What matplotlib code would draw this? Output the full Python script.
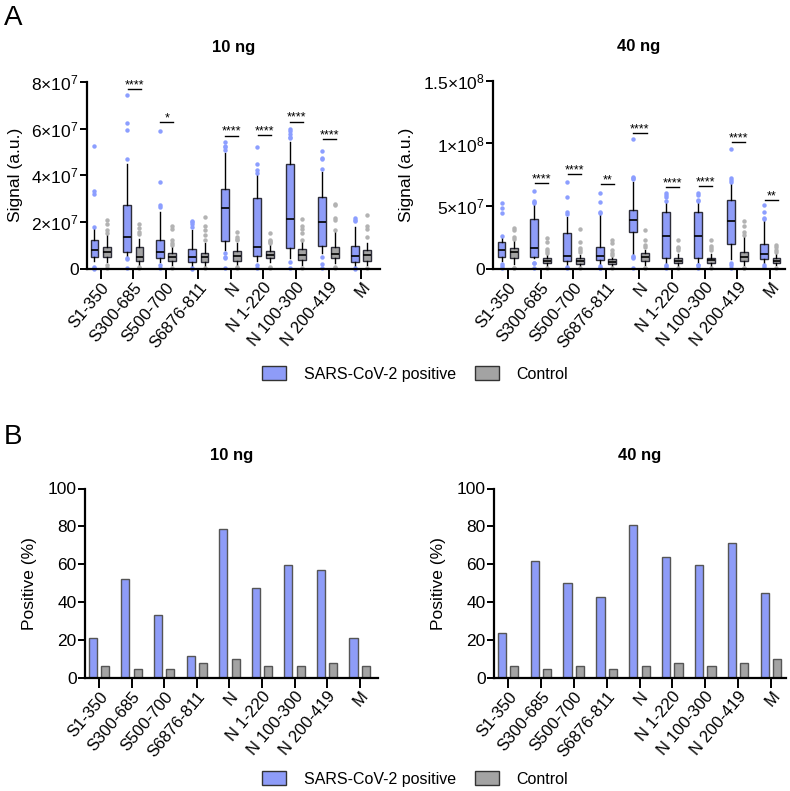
"""
Serology panel: peptide signal box plots (A) and percent positive bars (B), 10 ng vs 40 ng.
Output: out.png
"""
import matplotlib
matplotlib.use("Agg")
import matplotlib.pyplot as plt
from matplotlib.patches import Patch
import numpy as np

plt.rcParams["font.family"] = ["Liberation Sans", "DejaVu Sans"]
plt.rcParams["mathtext.fontset"] = "custom"
plt.rcParams["mathtext.rm"] = "Liberation Sans"
plt.rcParams["mathtext.it"] = "Liberation Sans"

CATEGORIES = ["S1-350", "S300-685", "S500-700", "S6876-811", "N",
              "N 1-220", "N 100-300", "N 200-419", "M"]

# ---- box plot summaries, signal in units of 1e6 a.u. ----
# 10 ng, SARS-CoV-2 positive
pos10_q1 = [5.0, 7.2, 4.5, 2.8, 12.0, 5.6, 8.8, 9.8, 3.0]
pos10_med = [8.1, 13.8, 7.2, 5.0, 26.2, 9.3, 21.4, 20.2, 5.6]
pos10_q3 = [12.4, 27.4, 12.2, 8.6, 34.0, 30.5, 44.7, 30.8, 10.0]
pos10_lo = [3.5, 5.5, 2.8, 1.0, 8.0, 3.5, 4.5, 7.0, 1.0]
pos10_hi = [17.5, 45.0, 24.4, 16.7, 49.4, 40.2, 54.4, 41.6, 17.8]
pos10_out = [[52.5, 33.5, 32.0, 18.0, 1.0, 0.5, 0.2],
             [74.5, 62.5, 59.5, 47.0, 4.5, 4.2, 0.3],
             [59.0, 37.0, 27.4, 26.5, 1.5, 0.3],
             [20.6, 20.2, 19.2, 18.1, 0.2, 0.4],
             [54.2, 52.6, 52.0, 50.8, 6.8, 5.3, 4.6, 0.5],
             [52.3, 44.7, 42.3, 40.8, 1.5, 0.5],
             [59.7, 59.0, 57.7, 56.5, 55.9, 2.8, 0.3],
             [50.5, 47.5, 47.0, 42.5, 5.0, 2.0, 0.3],
             [21.9, 21.0, 20.6, 0.5, 0.2]]
# 10 ng, control
ctl10_q1 = [5.0, 3.5, 3.5, 3.0, 3.5, 4.6, 3.8, 4.6, 3.5]
ctl10_med = [7.4, 5.0, 5.0, 5.0, 5.6, 6.0, 5.8, 6.2, 5.8]
ctl10_q3 = [9.5, 9.2, 6.7, 6.8, 7.8, 7.7, 8.4, 9.4, 8.0]
ctl10_lo = [3.0, 1.5, 1.5, 1.0, 1.5, 3.0, 1.5, 2.5, 1.5]
ctl10_hi = [14.5, 12.7, 9.3, 11.0, 11.0, 10.2, 11.5, 15.9, 11.0]
ctl10_out = [[21.0, 19.3, 16.7, 15.2, 1.5, 0.5],
             [19.2, 17.5, 16.0, 14.8, 0.3, 0.8],
             [18.2, 17.2, 12.2, 11.2, 10.2, 0.3],
             [22.3, 18.3, 16.7, 14.5, 12.3, 0.3],
             [16.0, 13.5, 12.7, 12.2, 0.5, 1.0],
             [15.3, 12.4, 12.0, 11.6, 11.3, 1.0, 0.5],
             [21.2, 18.4, 17.0, 15.3, 12.5, 0.3],
             [27.8, 27.3, 21.7, 20.9, 16.7, 0.5, 1.0],
             [23.0, 18.4, 17.1, 13.5, 0.5]]
# 40 ng, SARS-CoV-2 positive
pos40_q1 = [9.3, 9.8, 6.5, 7.0, 29.7, 9.0, 8.5, 19.7, 8.0]
pos40_med = [15.5, 16.5, 10.5, 10.5, 39.1, 26.3, 26.3, 38.0, 12.3]
pos40_q3 = [21.8, 40.0, 28.8, 17.8, 47.0, 45.2, 45.2, 55.0, 19.7]
pos40_lo = [6.5, 8.5, 3.0, 4.0, 11.2, 5.0, 5.0, 8.0, 5.0]
pos40_hi = [26.0, 51.0, 41.7, 43.0, 69.6, 52.4, 52.4, 67.5, 38.5]
pos40_out = [[52.5, 48.8, 45.0, 26.5, 4.0, 2.0, 1.0],
             [62.5, 54.5, 53.5, 52.5, 5.0, 4.5, 1.0],
             [69.6, 57.2, 45.2, 44.0, 1.5, 0.5],
             [60.6, 53.0, 45.7, 45.0, 2.0, 1.0, 0.5],
             [103.7, 73.6, 72.5, 71.5, 10.4, 9.5, 8.5, 0.5],
             [60.8, 59.0, 57.7, 54.5, 3.5, 2.5, 1.0],
             [60.5, 58.8, 54.8, 53.8, 3.5, 3.0, 1.0],
             [95.7, 72.3, 71.0, 69.5, 5.0, 3.0, 1.0],
             [51.3, 45.5, 41.0, 40.0, 3.0, 1.5]]
# 40 ng, control
ctl40_q1 = [8.5, 4.5, 4.0, 4.2, 6.5, 4.5, 4.5, 6.6, 5.0]
ctl40_med = [13.5, 6.5, 6.5, 5.8, 9.5, 6.5, 6.8, 9.8, 6.6]
ctl40_q3 = [16.5, 9.0, 8.5, 7.7, 12.5, 8.8, 9.0, 13.8, 8.5]
ctl40_lo = [4.0, 2.5, 2.0, 2.5, 3.0, 2.5, 2.5, 3.5, 3.0]
ctl40_hi = [23.0, 12.0, 11.5, 10.0, 15.5, 12.0, 12.0, 25.3, 12.0]
ctl40_out = [[32.3, 31.0, 25.8, 23.8, 1.0, 0.5],
             [24.8, 21.8, 16.2, 14.3, 12.8, 0.5],
             [31.5, 21.5, 16.5, 15.0, 13.5, 0.5],
             [23.0, 21.0, 15.2, 12.5, 11.2, 0.5],
             [31.0, 23.0, 19.0, 17.3, 1.0, 0.5],
             [23.0, 17.8, 16.5, 15.0, 0.5],
             [23.0, 18.3, 16.5, 15.2, 0.5],
             [38.5, 34.3, 29.7, 27.0, 1.0, 0.5],
             [19.1, 17.8, 15.2, 13.8, 1.0]]

# significance marks: category index, line height (1e6 a.u.), label
sig10_idx = [1, 2, 4, 5, 6, 7]
sig10_y = [76.8, 62.7, 57.0, 57.3, 63.0, 55.6]
sig10_txt = ["****", "*", "****", "****", "****", "****"]
sig40_idx = [1, 2, 3, 4, 5, 6, 7, 8]
sig40_y = [68.3, 75.8, 67.5, 108.2, 65.6, 66.4, 101.0, 55.0]
sig40_txt = ["****", "****", "**", "****", "****", "****", "****", "**"]

# ---- percent positive ----
pct_pos10 = [21, 52, 33, 11.5, 78.5, 47.5, 59.5, 57, 21]
pct_ctl10 = [6.5, 5, 5, 8, 10, 6.5, 6.5, 8, 6.5]
pct_pos40 = [23.5, 62, 50, 43, 81, 64, 59.5, 71.5, 45]
pct_ctl40 = [6.5, 5, 6.5, 5, 6.5, 8, 6.5, 8, 10]

BLUE = "#8e9cf8"
BLUE_DOT = "#8c9eff"
GRAY = "#a3a3a3"
GRAY_DOT = "#b3b3b3"
EDGE = "#2e2e3a"

W, H = 790, 791


def px_axes(fig, x0, x1, ytop, ybot):
    return fig.add_axes([x0 / W, 1 - ybot / H, (x1 - x0) / W, (ybot - ytop) / H])


def style_axes(ax):
    for s in ("top", "right"):
        ax.spines[s].set_visible(False)
    for s in ("left", "bottom"):
        ax.spines[s].set_linewidth(1.6)
        ax.spines[s].set_color("black")
    ax.tick_params(axis="y", length=5, width=1.4, labelsize=12.5, pad=1)
    ax.tick_params(axis="x", length=7, width=1.4, pad=1)
    ax.set_xticks(range(len(CATEGORIES)))
    ax.set_xticklabels(CATEGORIES, rotation=50, ha="right", rotation_mode="anchor",
                       fontsize=12)


def boxes(ax, q1, med, q3, lo, hi, out, offset, fill, dot):
    stats = [dict(q1=a, med=m, q3=b, whislo=l, whishi=h, fliers=f)
             for a, m, b, l, h, f in zip(q1, med, q3, lo, hi, out)]
    ax.bxp(stats, positions=np.arange(len(stats)) + offset, widths=0.24,
           patch_artist=True, showcaps=False, manage_ticks=False,
           boxprops=dict(facecolor=fill, edgecolor=EDGE, linewidth=1.0),
           medianprops=dict(color="black", linewidth=1.2),
           whiskerprops=dict(color="black", linewidth=1.0),
           flierprops=dict(marker="o", markersize=3.2, markerfacecolor=dot,
                           markeredgecolor="none", clip_on=False))


def box_panel(ax, title, pos, ctl, sig, ymax, ticks, ticklabels, xlim):
    boxes(ax, *pos, -0.19, BLUE, BLUE_DOT)
    boxes(ax, *ctl, 0.19, GRAY, GRAY_DOT)
    for i, y, t in zip(*sig):
        ax.plot([i - 0.17, i + 0.23], [y, y], color="black", lw=1.0)
        ax.annotate(t, (i + 0.03, y), xytext=(0, 0.5), textcoords="offset points",
                    ha="center", va="baseline", fontsize=9)
    ax.set_ylim(0, ymax)
    ax.set_xlim(*xlim)
    ax.set_yticks(ticks)
    ax.set_yticklabels(ticklabels)
    style_axes(ax)
    ax.set_ylabel("Signal (a.u.)", fontsize=12.5, labelpad=6)
    ax.set_title(title, fontsize=12, fontweight="bold", pad=21.5)


def bar_panel(ax, title, pos, ctl, xlim):
    x = np.arange(len(CATEGORIES))
    ax.bar(x - 0.19, pos, width=0.25, color=BLUE, edgecolor="#555555", linewidth=1.0)
    ax.bar(x + 0.19, ctl, width=0.25, color=GRAY, edgecolor="#555555", linewidth=1.0)
    ax.set_ylim(0, 100)
    ax.set_xlim(*xlim)
    ax.set_yticks([0, 20, 40, 60, 80, 100])
    style_axes(ax)
    ax.set_ylabel("Positive (%)", fontsize=12.5, labelpad=8)
    ax.set_title(title, fontsize=12, fontweight="bold", pad=20.5)


fig = plt.figure(figsize=(W / 100, H / 100), dpi=100)

ax = px_axes(fig, 87, 380, 81.7, 269)
box_panel(ax, "10 ng",
          (pos10_q1, pos10_med, pos10_q3, pos10_lo, pos10_hi, pos10_out),
          (ctl10_q1, ctl10_med, ctl10_q3, ctl10_lo, ctl10_hi, ctl10_out),
          (sig10_idx, sig10_y, sig10_txt), 80,
          [0, 20, 40, 60, 80],
          ["0", "2×10$^{7}$", "4×10$^{7}$", "6×10$^{7}$", "8×10$^{7}$"],
          (-0.42, 8.58))

ax = px_axes(fig, 493, 785, 80.7, 269)
box_panel(ax, "40 ng",
          (pos40_q1, pos40_med, pos40_q3, pos40_lo, pos40_hi, pos40_out),
          (ctl40_q1, ctl40_med, ctl40_q3, ctl40_lo, ctl40_hi, ctl40_out),
          (sig40_idx, sig40_y, sig40_txt), 150,
          [0, 50, 100, 150],
          ["0", "5×10$^{7}$", "1×10$^{8}$", "1.5×10$^{8}$"],
          (-0.45, 8.45))

ax = px_axes(fig, 85, 378, 488.5, 678)
bar_panel(ax, "10 ng", pct_pos10, pct_ctl10, (-0.43, 8.56))

ax = px_axes(fig, 494, 786, 488.5, 678)
bar_panel(ax, "40 ng", pct_pos40, pct_ctl40, (-0.43, 8.46))

handles = [Patch(facecolor=BLUE, edgecolor="#333333", label="SARS-CoV-2 positive"),
           Patch(facecolor=GRAY, edgecolor="#333333", label="Control")]
for yc in (374, 779):
    fig.legend(handles=handles, loc="center", bbox_to_anchor=(415 / W, 1 - yc / H),
               ncol=2, frameon=False, fontsize=11.5,
               handlelength=1.5, handleheight=0.9, columnspacing=1.2, handletextpad=1.1)

fig.text(4 / W, 1 - 18 / H, "A", fontsize=20, va="center", ha="left")
fig.text(4 / W, 1 - 437 / H, "B", fontsize=20, va="center", ha="left")

fig.savefig("out.png", dpi=100)
plt.close(fig)
